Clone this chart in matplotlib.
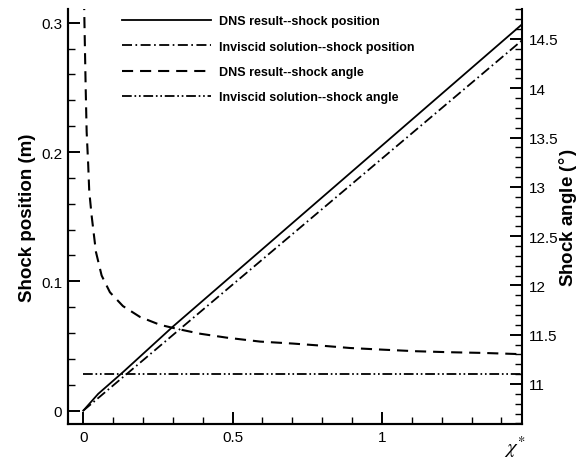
import matplotlib
matplotlib.use("Agg")
import matplotlib.pyplot as plt
from matplotlib.ticker import MultipleLocator, FuncFormatter

plt.rcParams['font.family'] = ['Liberation Sans', 'DejaVu Sans']
plt.rcParams['lines.scale_dashes'] = False

# ---------------- data ----------------
dns_pos_x = [0.0, 0.05, 0.134, 0.30, 0.79, 1.47]
dns_pos_y = [0.0, 0.013, 0.030, 0.065, 0.163, 0.299]

inv_pos_x = [0.0, 1.47]
inv_pos_y = [0.0, 0.2866]

dns_ang_x = [0.002, 0.0033, 0.008, 0.0114, 0.0167, 0.020, 0.028, 0.0425, 0.0616,
             0.0894, 0.133, 0.190, 0.257, 0.313, 0.391, 0.480, 0.592, 0.702,
             0.792, 0.893, 1.003, 1.116, 1.228, 1.338, 1.451, 1.47]
dns_ang_y = [15.3, 14.79, 14.03, 13.56, 13.22, 12.96, 12.71, 12.34, 12.10,
             11.93, 11.79, 11.68, 11.60, 11.56, 11.51, 11.47, 11.43, 11.41,
             11.39, 11.365, 11.348, 11.332, 11.322, 11.315, 11.304, 11.303]

inv_ang_x = [0.0, 1.47]
inv_ang_y = [11.10, 11.10]

labels = ["DNS result--shock position",
          "Inviscid solution--shock position",
          "DNS result--shock angle",
          "Inviscid solution--shock angle"]

x_ticks = [0, 0.5, 1]
left_ticks = [0, 0.1, 0.2, 0.3]
right_ticks = [11, 11.5, 12, 12.5, 13, 13.5, 14, 14.5]

# ---------------- figure ----------------
fig = plt.figure(figsize=(5.86, 4.64), dpi=100)
L, R, B, T = 68.3 / 586, 521.7 / 586, 1 - 425 / 464, 1 - 10 / 464
ax = fig.add_axes([L, B, R - L, T - B])
ax2 = ax.twinx()

lw = 1.3
l1, = ax.plot(dns_pos_x, dns_pos_y, color='black', lw=lw, ls='-')
l2, = ax.plot(inv_pos_x, inv_pos_y, color='black', lw=lw,
              dashes=[7.2, 2.5, 1.2, 2.5])
l3, = ax2.plot(dns_ang_x, dns_ang_y, color='black', lw=lw + 0.2,
               dashes=[8, 5])
l4, = ax2.plot(inv_ang_x, inv_ang_y, color='black', lw=lw,
               dashes=[7, 2, 1.2, 2, 1.2, 2])

ax.set_xlim(-0.05, 1.4677)
ax.set_ylim(-0.0103, 0.3106)
ax2.set_ylim(10.594, 14.804)

fmt = FuncFormatter(lambda v, p: '%g' % v)
ax.set_xticks(x_ticks)
ax.set_yticks(left_ticks)
ax2.set_yticks(right_ticks)
ax.xaxis.set_major_formatter(fmt)
ax.yaxis.set_major_formatter(fmt)
ax2.yaxis.set_major_formatter(fmt)
ax.xaxis.set_minor_locator(MultipleLocator(0.1))
ax.yaxis.set_minor_locator(MultipleLocator(0.02))
ax2.yaxis.set_minor_locator(MultipleLocator(0.1))

for a in (ax, ax2):
    a.spines['top'].set_visible(False)
    for s in a.spines.values():
        s.set_linewidth(1.5)

ax.tick_params(which='major', direction='in', length=8.4, width=1.4,
               labelsize=11, pad=4.5, top=False, right=False)
ax.tick_params(which='minor', direction='in', length=4.8, width=1.0,
               top=False, right=False)
ax2.tick_params(which='major', direction='in', length=8.4, width=1.4,
                labelsize=11, pad=5.5)
ax2.tick_params(which='minor', direction='in', length=4.8, width=1.0)
ax.spines['right'].set_visible(False)

ax.set_ylabel("Shock position (m)", fontsize=13.5, fontweight='bold')
ax.yaxis.set_label_coords(-0.0712, 0.5)
ax2.set_ylabel("Shock angle ($\\degree$)", fontsize=13.5, fontweight='bold')
ax2.yaxis.set_label_coords(1.0778, 0.5)

ax.set_xlabel(r"$\chi^{*}$", fontsize=15, math_fontfamily='stix')
ax.xaxis.set_label_coords(0.985, -0.024)

leg = ax2.legend([l1, l2, l3, l4], labels, loc='upper left',
                 bbox_to_anchor=(0.1184, 0.9846), frameon=False,
                 prop={'weight': 'bold', 'size': 9},
                 handlelength=7.12, handletextpad=0.64, labelspacing=1.06,
                 borderpad=0, borderaxespad=0)

fig.savefig("out.png", dpi=100)
